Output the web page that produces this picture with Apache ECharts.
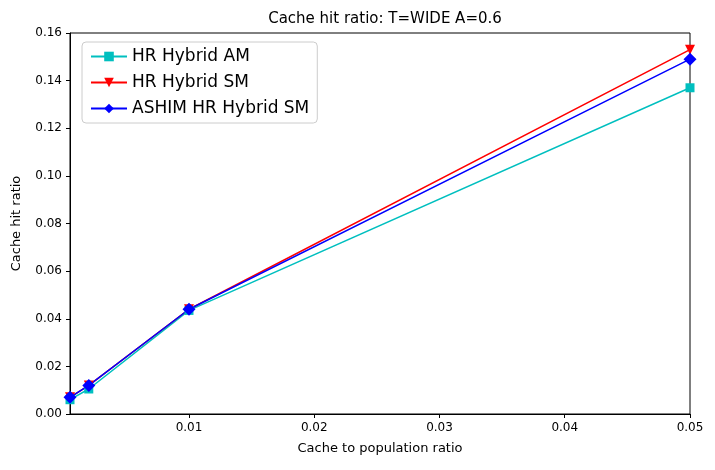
<!DOCTYPE html><html><head><meta charset="utf-8"><script src="https://cdn.jsdelivr.net/npm/echarts@6/dist/echarts.min.js"></script>
<style>body{margin:0}#c{width:715px;height:470px}</style></head><body><div id="c"></div><script>
const xs=[0.0005,0.002,0.01,0.05];
const am=[0.006,0.0105,0.0435,0.137];
const sm=[0.007,0.012,0.044,0.153];
const ashim=[0.007,0.012,0.044,0.149];
const xTicks=[0.01,0.02,0.03,0.04,0.05];
const pair=a=>xs.map((x,i)=>[x,a[i]]);
const f='DejaVu Sans';
const ch=echarts.init(document.getElementById('c'));
ch.setOption({animation:false,textStyle:{fontFamily:f},
title:{text:'Cache hit ratio: T=WIDE A=0.6',left:380,top:7,textAlign:'center',textStyle:{fontFamily:f,fontSize:15,fontWeight:'normal',color:'#000'}},
grid:{left:70,right:25,top:33,bottom:56,show:true,borderColor:'#000',borderWidth:1},
legend:{left:82,top:42,orient:'vertical',itemWidth:36,itemHeight:12,itemGap:9,padding:[6,8],borderColor:'#ccc',borderWidth:1,borderRadius:4,backgroundColor:'#fff',textStyle:{fontFamily:f,fontSize:17,color:'#000'}},
xAxis:{type:'value',min:0.0005,max:0.05,name:'Cache to population ratio',nameLocation:'middle',nameGap:28,nameTextStyle:{fontSize:13,color:'#000'},
axisLine:{lineStyle:{color:'#000'}},splitLine:{show:false},axisTick:{customValues:xTicks,length:4,lineStyle:{color:'#000'}},axisLabel:{customValues:xTicks,color:'#000',fontSize:12,formatter:v=>String(+v.toFixed(2))}},
yAxis:{type:'value',min:0,max:0.16,interval:0.02,name:'Cache hit ratio',nameLocation:'middle',nameGap:47,nameTextStyle:{fontSize:13,color:'#000'},
axisLine:{show:true,lineStyle:{color:'#000'}},splitLine:{show:false},axisTick:{show:true,length:4,lineStyle:{color:'#000'}},axisLabel:{color:'#000',fontSize:12,formatter:v=>v.toFixed(2)}},
series:[
{name:'HR Hybrid AM',type:'line',data:pair(am),symbol:'rect',symbolSize:9,itemStyle:{color:'#00bfbf'},lineStyle:{width:1.5}},
{name:'HR Hybrid SM',type:'line',data:pair(sm),symbol:'triangle',symbolRotate:180,symbolSize:10,itemStyle:{color:'#ff0000'},lineStyle:{width:1.5}},
{name:'ASHIM HR Hybrid SM',type:'line',data:pair(ashim),symbol:'diamond',symbolSize:13,itemStyle:{color:'#0000ff'},lineStyle:{width:1.5}}
]});
</script></body></html>
